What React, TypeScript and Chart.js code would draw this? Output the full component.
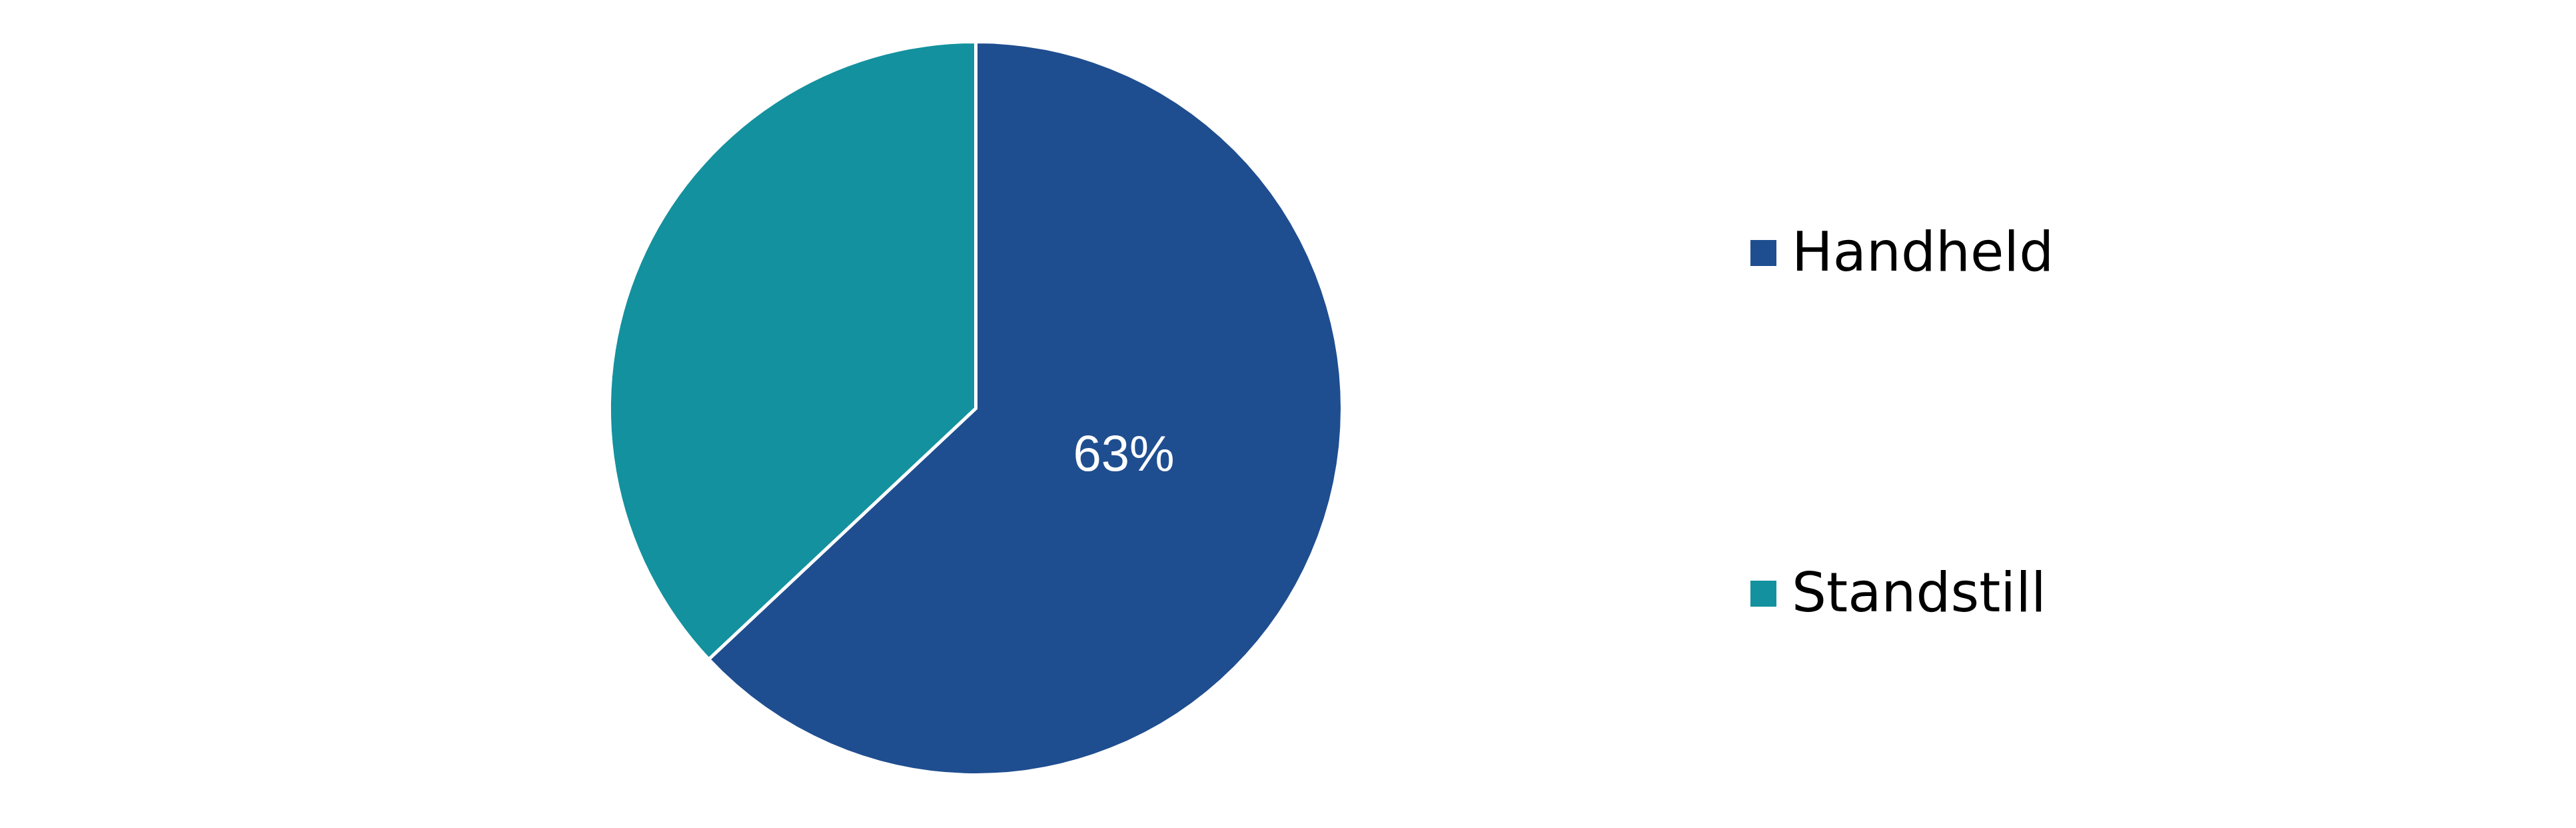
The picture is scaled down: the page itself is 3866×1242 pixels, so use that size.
import React, { useEffect, useRef } from 'react';
import { Chart, registerables } from 'chart.js';

Chart.register(...registerables);

const categories = ['Handheld', 'Standstill'];
const shares = [63, 37];
const sliceLabels = ['63%', ''];
const sliceColors = ['#1F4E90', '#13919E'];

// draws the white percentage text inside the slices
const sliceLabelPlugin = {
  id: 'sliceLabels',
  afterDatasetsDraw(chart: any) {
    const { ctx } = chart;
    const meta = chart.getDatasetMeta(0);
    ctx.save();
    ctx.fillStyle = '#FFFFFF';
    ctx.font = '76px "Liberation Sans", Arial, sans-serif';
    ctx.textAlign = 'center';
    ctx.textBaseline = 'middle';
    meta.data.forEach((arc: any, i: number) => {
      const text = sliceLabels[i];
      if (!text) return;
      const { x, y, startAngle, endAngle, outerRadius } = arc.getProps(
        ['x', 'y', 'startAngle', 'endAngle', 'outerRadius'],
        true
      );
      const mid = (startAngle + endAngle) / 2;
      const r = outerRadius * 0.44;
      ctx.fillText(text, x + Math.cos(mid) * r, y + Math.sin(mid) * r - 24);
    });
    ctx.restore();
  },
};

// legend on the right with wide spacing between the two entries
const sideLegendPlugin = {
  id: 'sideLegend',
  afterDraw(chart: any) {
    const { ctx } = chart;
    const boxX = 2627;
    const textX = 2689;
    const firstBaseline = 406;
    const rowGap = 511;
    ctx.save();
    ctx.font = '82px "DejaVu Sans", Verdana, sans-serif';
    ctx.textAlign = 'left';
    ctx.textBaseline = 'alphabetic';
    categories.forEach((name, i) => {
      const base = firstBaseline + i * rowGap;
      ctx.fillStyle = sliceColors[i];
      ctx.fillRect(boxX, base - 46, 39, 39);
      ctx.fillStyle = '#000000';
      ctx.fillText(name, textX, base);
    });
    ctx.restore();
  },
};

const PieChart: React.FC = () => {
  const chartRef = useRef<HTMLCanvasElement>(null);
  const chartInstance = useRef<Chart | null>(null);

  useEffect(() => {
    document.body.style.margin = '0';
    if (chartRef.current) {
      if (chartInstance.current) {
        chartInstance.current.destroy();
      }
      const ctx = chartRef.current.getContext('2d');
      if (ctx) {
        chartInstance.current = new Chart(ctx, {
          type: 'pie',
          data: {
            labels: categories,
            datasets: [
              {
                data: shares,
                backgroundColor: sliceColors,
                borderColor: '#FFFFFF',
                borderWidth: 5,
              },
            ],
          },
          options: {
            animation: false,
            responsive: true,
            maintainAspectRatio: false,
            radius: 550,
            layout: {
              padding: { left: 904.5, right: 1841.5, top: 52.5, bottom: 69.5 },
            },
            plugins: {
              legend: { display: false },
              tooltip: { enabled: false },
            },
          },
          plugins: [sliceLabelPlugin, sideLegendPlugin],
        });
      }
    }

    return () => {
      if (chartInstance.current) {
        chartInstance.current.destroy();
        chartInstance.current = null;
      }
    };
  }, []);

  return (
    <div style={{ position: 'relative', width: '3866px', height: '1242px', background: '#FFFFFF' }}>
      <canvas ref={chartRef} />
    </div>
  );
};

export default function App() {
  return <PieChart />;
}
